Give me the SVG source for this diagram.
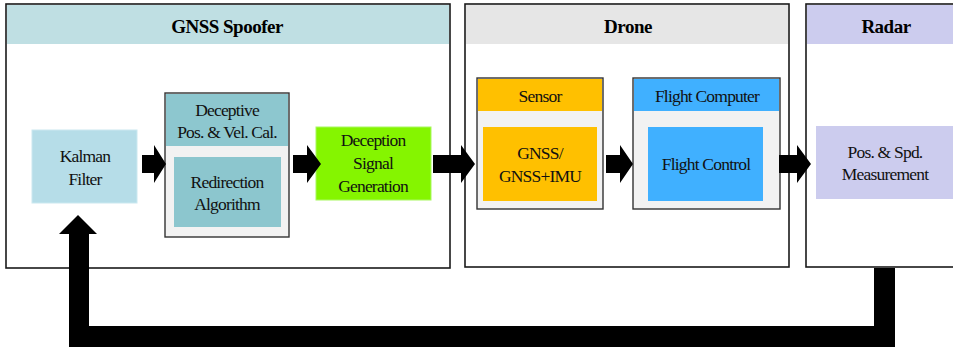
<svg xmlns="http://www.w3.org/2000/svg" width="953" height="351" viewBox="0 0 953 351">
<style>
.frame{fill:#ffffff;stroke:#1a1a1a;stroke-width:1.6}
.panel{fill:#f2f2f2;stroke:#333333;stroke-width:1.4}
.title{font-family:"Liberation Serif","Times New Roman",serif;font-weight:bold;font-size:19px;fill:#000;text-anchor:middle;letter-spacing:-0.5px}
.t{font-family:"Liberation Serif","Times New Roman",serif;font-size:17.5px;fill:#111;text-anchor:middle;letter-spacing:-0.8px}
.arrow{fill:#000}
</style>
<rect width="953" height="351" fill="#ffffff"/>

<g id="gnss-spoofer">
<rect class="frame" x="6" y="4" width="444" height="264"/>
<rect x="7" y="5" width="442" height="39" fill="#bfdfe3"/>
<text class="title" x="227" y="33">GNSS Spoofer</text>
</g>

<g id="kalman-filter">
<rect x="32" y="130" width="105" height="73" fill="#b6dde8" stroke="#cbe8f0" stroke-width="1"/>
<text class="t" x="85" y="162">Kalman</text>
<text class="t" x="85" y="185">Filter</text>
</g>

<g id="deceptive-calc">
<rect class="panel" x="165" y="93" width="124" height="144"/>
<rect x="166" y="94" width="122" height="52" fill="#8dc7cf"/>
<text class="t" x="227" y="116">Deceptive</text>
<text class="t" x="227" y="138">Pos. &amp; Vel. Cal.</text>
<rect x="174" y="157" width="107" height="70" fill="#8cc6ce"/>
<text class="t" x="227" y="188">Redirection</text>
<text class="t" x="227" y="210">Algorithm</text>
</g>

<g id="deception-signal">
<rect x="316" y="127" width="115" height="73" fill="#85f500" stroke="#a8f860" stroke-width="1"/>
<text class="t" x="373" y="146">Deception</text>
<text class="t" x="373" y="169">Signal</text>
<text class="t" x="373" y="192">Generation</text>
</g>

<g id="drone">
<rect class="frame" x="465" y="4" width="324" height="263"/>
<rect x="466" y="5" width="322" height="39" fill="#e6e6e6"/>
<text class="title" x="628" y="33">Drone</text>
</g>

<g id="sensor">
<rect class="panel" x="477" y="78" width="126" height="131"/>
<rect x="478" y="79" width="124" height="32" fill="#ffc000"/>
<text class="t" x="540" y="102">Sensor</text>
<rect x="483" y="127" width="114" height="74" fill="#ffc000"/>
<text class="t" x="540" y="159">GNSS/</text>
<text class="t" x="540" y="182">GNSS+IMU</text>
</g>

<g id="flight-computer">
<rect class="panel" x="633" y="78" width="147" height="131"/>
<rect x="634" y="79" width="145" height="32" fill="#40b0ff"/>
<text class="t" x="707" y="102">Flight Computer</text>
<rect x="648" y="127" width="115" height="74" fill="#40b0ff"/>
<text class="t" x="706" y="170">Flight Control</text>
</g>

<g id="radar">
<rect class="frame" x="806" y="4" width="160" height="263"/>
<rect x="807" y="5" width="150" height="39" fill="#ccccee"/>
<text class="title" x="886" y="33">Radar</text>
<rect x="816" y="126" width="140" height="73" fill="#ccccee"/>
<text class="t" x="885" y="158">Pos. &amp; Spd.</text>
<text class="t" x="885" y="180">Measurement</text>
</g>

<g id="connectors">
<polygon class="arrow" points="142,155 154,155 154,145 166,164 154,183 154,173 142,173"/>
<polygon class="arrow" points="293,155 307,155 307,145 321,164 307,183 307,173 293,173"/>
<polygon class="arrow" points="433,155 461,155 461,145 475,164 461,183 461,173 433,173"/>
<polygon class="arrow" points="606,155 620,155 620,145 633,164 620,183 620,173 606,173"/>
<polygon class="arrow" points="779,155 797,155 797,145 811,164 797,183 797,173 779,173"/>
<polygon class="arrow" points="874,268 895,268 895,347 69,347 69,234 59,234 78,215 97,234 89,234 89,326 874,326"/>
</g>
</svg>
